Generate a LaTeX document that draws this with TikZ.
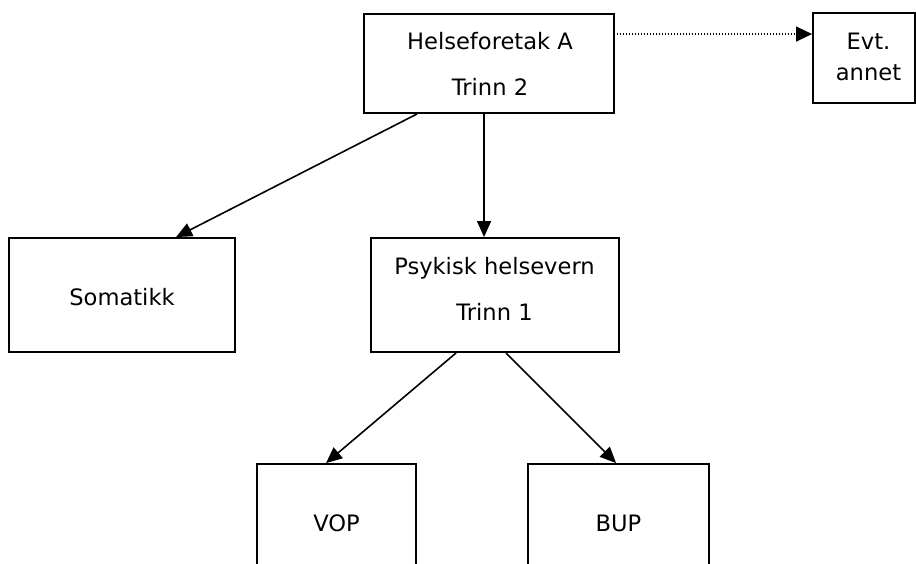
\documentclass[tikz,border=0pt]{standalone}
\usepackage{fontspec}
\setmainfont{DejaVu Sans}
\usetikzlibrary{arrows.meta,calc}
\begin{document}
\begin{tikzpicture}[x=1pt,y=-1pt,
  box/.style={draw, line width=1.9pt, inner sep=0pt, rectangle},
  lbl/.style={inner sep=0pt, align=center, font=\fontsize{22.6}{46}\selectfont},
  conn/.style={line width=1.6pt, -{Triangle[length=16pt,width=14pt]}},
  dotconn/.style={line width=1.3pt, dash pattern=on 1.3pt off 1.7pt, -{Triangle[length=16pt,width=15pt]}}]
\useasboundingbox (0,0) rectangle (916,563);
\fill[white] (0,0) rectangle (916,563);
\clip (0,0) rectangle (916,563);

% boxes
\node[box, minimum width=250pt, minimum height=99pt] (hf) at (489,63.5) {};
\node[box, minimum width=102pt, minimum height=90pt] (ev) at (864,58) {};
\node[box, minimum width=226pt, minimum height=114pt] (som) at (122,295) {};
\node[box, minimum width=248pt, minimum height=114pt] (ps) at (495,295) {};
\node[box, minimum width=159pt, minimum height=150pt] (vop) at (336.5,539) {};
\node[box, minimum width=181pt, minimum height=150pt] (bup) at (618.5,539) {};

% texts
\node[lbl] (hft) at (490,63.6) {Helseforetak A\\Trinn 2};
\node[lbl, font=\fontsize{22.6}{31}\selectfont] (evt) at (868.5,56.5) {Evt.\\annet};
\node[lbl] (somt) at (122,297) {Somatikk};
\node[lbl] (pst) at (494.5,289.2) {Psykisk helsevern\\Trinn 1};
\node[lbl] (vopt) at (336.5,523) {VOP};
\node[lbl] (bupt) at (618.5,523) {BUP};

% connectors
\draw[conn] ($(hf.south west)+(54,0)$) -- ($(som.north west)+(168,0)$);
\draw[conn] ($(hf.south west)+(121,0)$) -- ($(ps.north west)+(114,0)$);
\draw[conn] ($(ps.south west)+(86,0)$) -- ($(vop.north west)+(70,0)$);
\draw[conn] ($(ps.south west)+(136,0)$) -- ($(bup.north west)+(89,0)$);
\draw[dotconn] ($(hf.north east)+(2,21)$) -- ($(ev.north west)+(0,22)$);
\end{tikzpicture}
\end{document}
